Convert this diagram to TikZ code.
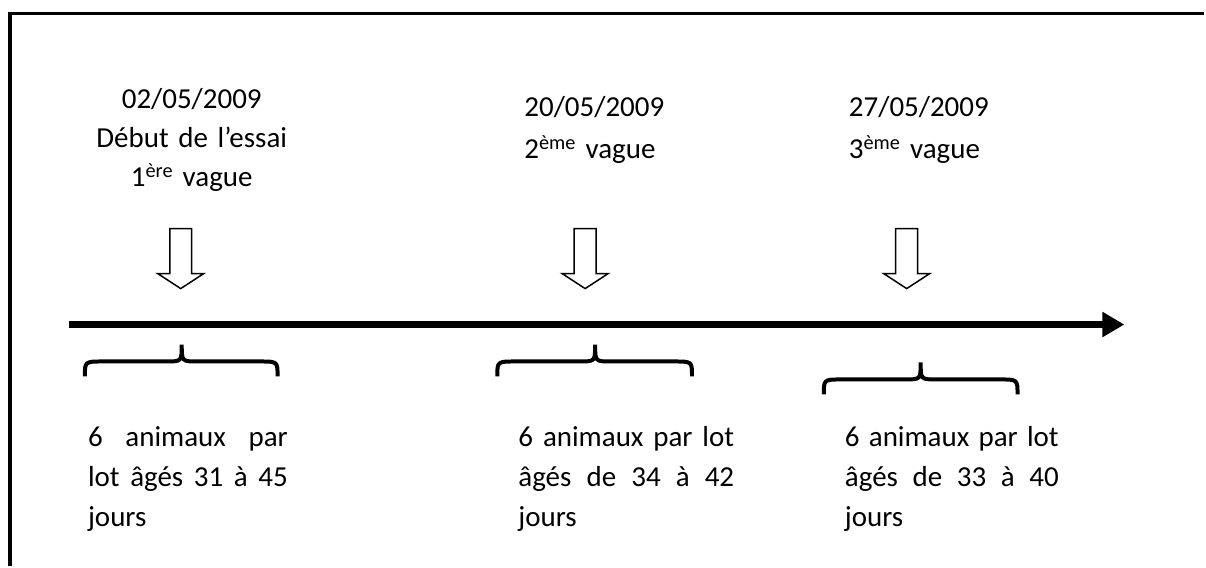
\documentclass[tikz,border=0pt]{standalone}
\usepackage{fontspec}
\setmainfont{Carlito}
\usetikzlibrary{arrows.meta}
\tikzset{>=stealth}
\tikzset{
  datetext/.style={inner sep=0pt,text width=#1,font=\fontsize{29}{42}\selectfont},
  lottext/.style={inner sep=0pt,text width=#1,align=justify,anchor=base west,
    font=\fontsize{29}{40}\selectfont},
  hollow/.style={line width=1.5pt,line join=miter,fill=white},
  bracket/.style={line width=4pt,line cap=butt}
}

\begin{document}
\begin{tikzpicture}[x=1pt,y=-1pt]
\fill[white] (0,0) rectangle (1206,567);
\draw[line width=3.5pt,line cap=butt] (10,567) -- (10,13.5) -- (1206,13.5);

\node[datetext=240pt,align=center,anchor=base,font=\fontsize{29}{39}\selectfont]
  (V1) at (192,109) {02/05/2009\\Début de l’essai\\1\textsuperscript{ère} vague};
\node[datetext=200pt,align=left,anchor=base west] (V2) at (525,117)
  {20/05/2009\\2\textsuperscript{ème} vague};
\node[datetext=200pt,align=left,anchor=base west] (V3) at (850,117)
  {27/05/2009\\3\textsuperscript{ème} vague};

\foreach \x in {181,586,908}
  \draw[hollow] (\x-11,229) -- (\x+11,229) -- (\x+11,274) -- (\x+23,274)
    -- (\x,289) -- (\x-23,274) -- (\x-11,274) -- cycle;

\coordinate (T0) at (69,325);
\coordinate (T1) at (1126,325);
\draw[line width=7pt,-{Triangle[length=22pt,width=24pt]}] (T0) -- (T1);

\foreach \xl/\xm/\xr/\yb in {85/182/278/377,498/596/693/377,825/922/1019/395}
  \draw[bracket] (\xl,\yb) .. controls (\xl,\yb-15) .. (\xl+18,\yb-15)
    -- (\xm-16,\yb-15) .. controls (\xm,\yb-15) .. (\xm,\yb-32)
    .. controls (\xm,\yb-15) .. (\xm+16,\yb-15)
    -- (\xr-18,\yb-15) .. controls (\xr,\yb-15) .. (\xr,\yb);

\node[lottext=200pt] (L1) at (88,447)
  {6 animaux par\linebreak lot âgés 31 à 45\linebreak jours};
\node[lottext=216pt] (L2) at (519,447)
  {6 animaux par lot\linebreak âgés de 34 à 42\linebreak jours};
\node[lottext=214pt] (L3) at (846,447)
  {6 animaux par lot\linebreak âgés de 33 à 40\linebreak jours};
\end{tikzpicture}
\end{document}
